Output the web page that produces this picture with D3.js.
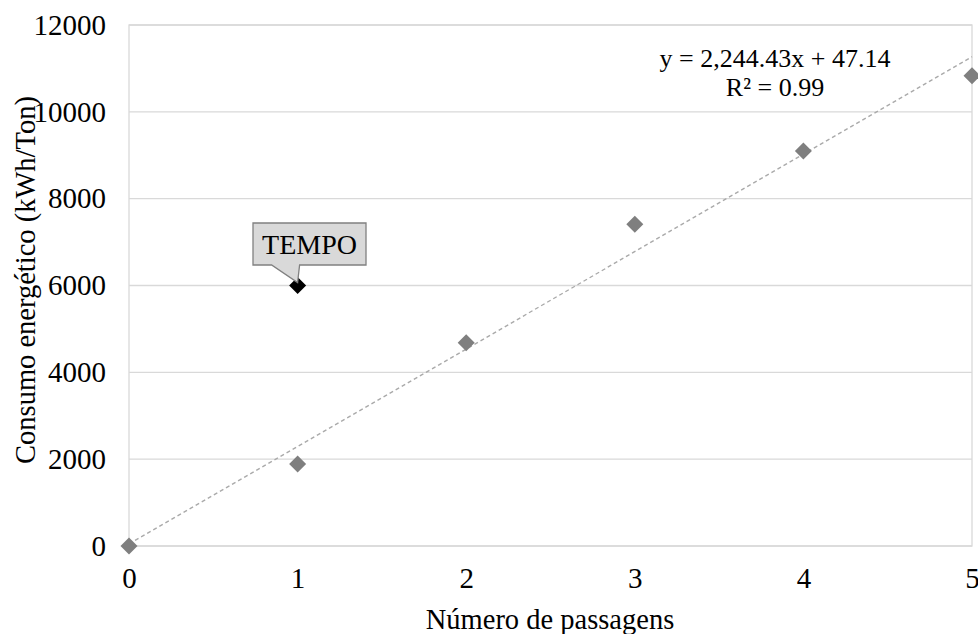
<!DOCTYPE html>
<html><head><meta charset="utf-8">
<script src="https://cdn.jsdelivr.net/npm/d3@7/dist/d3.min.js"></script>
<style>body{margin:0;background:#fff;}svg{display:block;font-family:"Liberation Serif","Times New Roman",serif;}</style>
</head><body>
<svg id="c" width="978" height="634"></svg>
<script>
const xValues = [0, 1, 2, 3, 4, 5];
const yValues = [0, 1890, 4680, 7410, 9100, 10830];
const highlight = {x: 1, y: 6000, label: "TEMPO"};
const slope = 2244.43, intercept = 47.14;
const equationText = "y = 2,244.43x + 47.14";
const r2Text = "R² = 0.99";
const xTicks = [0, 1, 2, 3, 4, 5];
const yTicks = [0, 2000, 4000, 6000, 8000, 10000, 12000];
const xTitle = "Número de passagens";
const yTitle = "Consumo energético (kWh/Ton)";

const svg = d3.select("#c");
const L = 129, R = 972, T = 25, B = 546;
const x = d3.scaleLinear().domain([0, 5]).range([L, R]);
const y = d3.scaleLinear().domain([0, 12000]).range([B, T]);
const fsTick = 29, fsTitle = 28.5, fsEq = 26, fsCall = 28;

// gridlines
svg.append("g").selectAll("line").data(yTicks).join("line")
  .attr("x1", L).attr("x2", R).attr("y1", d => y(d)).attr("y2", d => y(d))
  .attr("stroke", "#d9d9d9").attr("stroke-width", 1.3);
// border
svg.append("rect").attr("x", L).attr("y", T).attr("width", R - L).attr("height", B - T)
  .attr("fill", "none").attr("stroke", "#d9d9d9").attr("stroke-width", 1.3);

// axes
const xAxis = d3.axisBottom(x).tickValues(xTicks).tickSize(0).tickPadding(21).tickFormat(d3.format("d"));
const gx = svg.append("g").attr("transform", `translate(0,${B})`).call(xAxis);
gx.select(".domain").remove();
gx.selectAll("text").attr("font-size", fsTick).attr("fill", "#000").attr("font-family", "Liberation Serif");
const yAxis = d3.axisLeft(y).tickValues(yTicks).tickSize(0).tickPadding(23).tickFormat(d3.format("d"));
const gy = svg.append("g").attr("transform", `translate(${L},0)`).call(yAxis);
gy.select(".domain").remove();
gy.selectAll("text").attr("font-size", fsTick).attr("fill", "#000").attr("font-family", "Liberation Serif");

// trendline
svg.append("line").attr("x1", x(0)).attr("y1", y(intercept)).attr("x2", x(5)).attr("y2", y(slope * 5 + intercept))
  .attr("stroke", "#aaaaaa").attr("stroke-width", 1.4).attr("stroke-dasharray", "4,3");

// points
const diamond = (cx, cy, r) => `M${cx},${cy - r}L${cx + r},${cy}L${cx},${cy + r}L${cx - r},${cy}Z`;
svg.append("g").selectAll("path").data(xValues.map((v, i) => [v, yValues[i]])).join("path")
  .attr("d", d => diamond(x(d[0]), y(d[1]), 8.5)).attr("fill", "#7f7f7f");
svg.append("path").attr("d", diamond(x(highlight.x), y(highlight.y), 8.5)).attr("fill", "#000");

// callout
const px = x(highlight.x), py = y(highlight.y);
const bx0 = 253, bx1 = 366, by0 = 223, by1 = 265;
svg.append("path")
  .attr("d", `M${bx0},${by0}L${bx1},${by0}L${bx1},${by1}L${px + 2},${by1}L${px},${py - 3}L${px - 26},${by1}L${bx0},${by1}Z`)
  .attr("fill", "#d9d9d9").attr("stroke", "#808080").attr("stroke-width", 1.3);
svg.append("text").attr("x", (bx0 + bx1) / 2).attr("y", 254).attr("text-anchor", "middle")
  .attr("font-size", fsCall).text(highlight.label);

// equation
svg.append("text").attr("x", 775).attr("y", 67).attr("text-anchor", "middle").attr("font-size", fsEq).text(equationText);
svg.append("text").attr("x", 775).attr("y", 96).attr("text-anchor", "middle").attr("font-size", fsEq).text(r2Text);

// titles
svg.append("text").attr("x", 550).attr("y", 629).attr("text-anchor", "middle").attr("font-size", fsTitle).text(xTitle);
svg.append("text").attr("transform", `translate(35,280) rotate(-90)`).attr("text-anchor", "middle")
  .attr("font-size", fsTitle).text(yTitle);
</script>
</body></html>
